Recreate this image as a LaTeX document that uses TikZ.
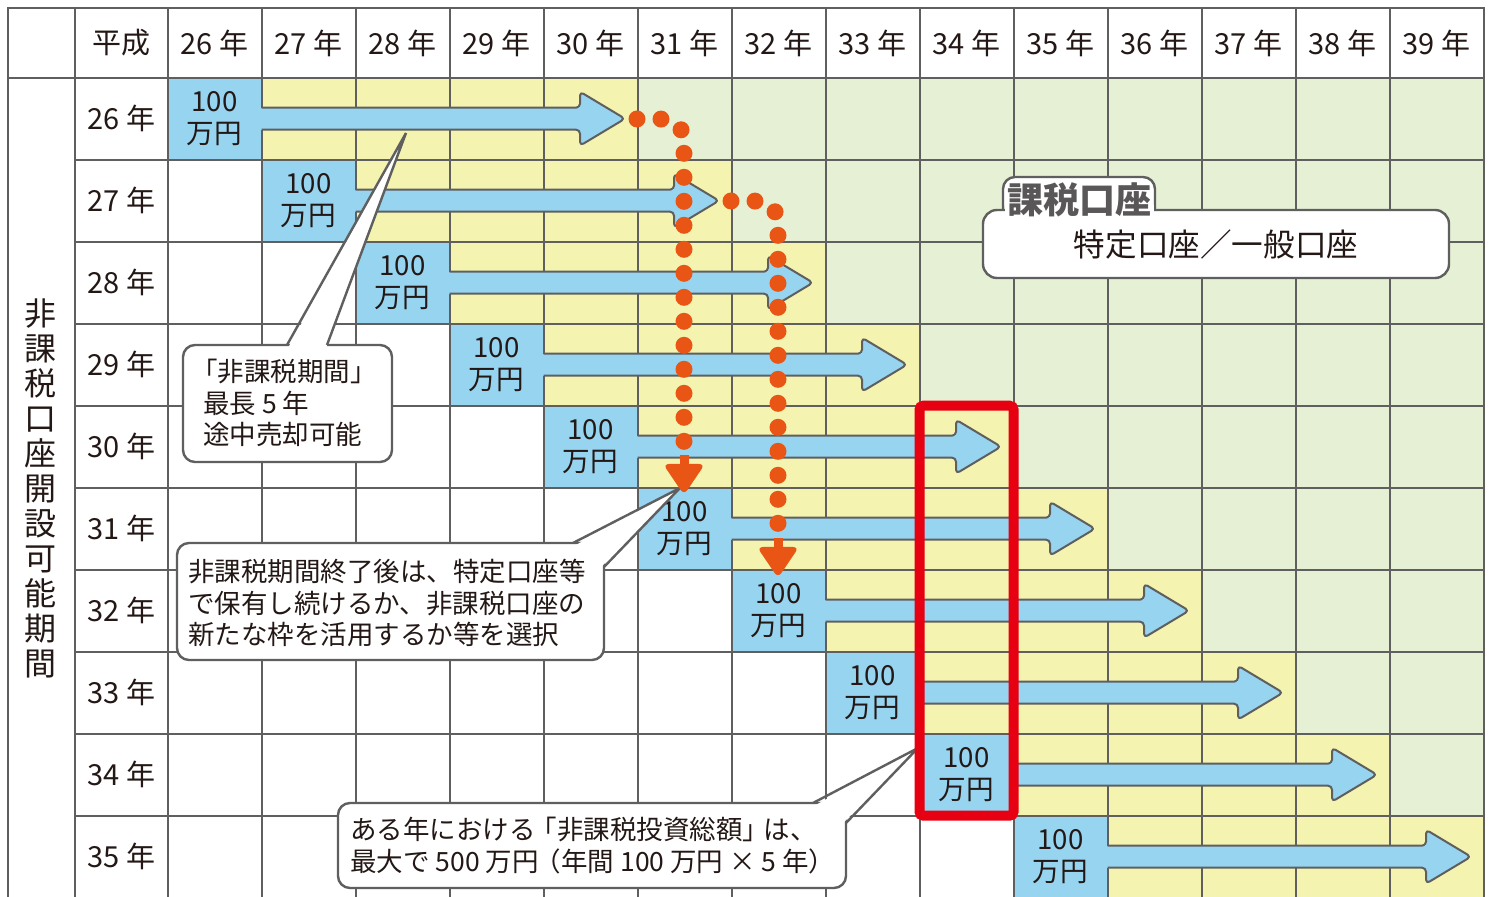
\documentclass[tikz,border=0pt]{standalone}
\usepackage{fontspec}
\setmainfont{Noto Sans CJK JP}
\definecolor{cblue}{RGB}{150,212,240}
\definecolor{cyel}{RGB}{245,243,176}
\definecolor{cgreen}{RGB}{230,240,213}
\definecolor{cgrid}{RGB}{95,95,95}
\definecolor{corange}{RGB}{233,85,21}
\definecolor{cred}{RGB}{230,0,18}
\definecolor{ctext}{RGB}{35,24,21}
\definecolor{ctab}{RGB}{89,87,87}
\begin{document}
\begin{tikzpicture}[x=0.5pt,y=-0.5pt,
  gridline/.style={cgrid,line width=1pt,line cap=rect},
  hdr/.style={font=\fontsize{14.5}{17}\selectfont,text=ctext,inner sep=0pt},
  amt/.style={font=\fontsize{13.8}{16}\selectfont,text=ctext,align=center,inner sep=0pt},
  calltext/.style={font=\fontsize{13.25}{15.8}\selectfont,text=ctext,align=left,inner sep=0pt,anchor=west},
  callbox/.style={fill=white,draw=cgrid,line width=1.2pt,rounded corners=6pt},
  callline/.style={draw=cgrid,line width=1.2pt,line join=miter},
  arrowout/.style={draw=cgrid,line width=1pt,line join=round,rounded corners=2pt},
  dots/.style={corange,line width=8.5pt,line cap=round,dash pattern=on 0pt off 12pt},
  ohead/.style={fill=corange,rounded corners=3pt},
]
\useasboundingbox (0,0) rectangle (1490,897);
\fill[white] (0,0) rectangle (1490,897);
% cells
\foreach \i in {0,...,9}{
  \foreach \j in {0,...,13}{
    \pgfmathtruncatemacro\d{\j-\i}
    \pgfmathsetmacro\xl{167.5+94*\j}
    \pgfmathsetmacro\yt{77.7+82*\i}
    \ifnum\d=0
      \fill[cblue] (\xl,\yt) rectangle ++(94,82);
    \else\ifnum\d>0
      \ifnum\d<5
        \fill[cyel] (\xl,\yt) rectangle ++(94,82);
      \else
        \fill[cgreen] (\xl,\yt) rectangle ++(94,82);
      \fi
    \fi\fi
  }
}
% grid
\draw[gridline] (8,8) -- (1483.5,8);
\draw[gridline] (8,77.7) -- (1483.5,77.7);
\draw[gridline] (8,8) -- (8,900);
\draw[gridline] (75,8) -- (75,900);
\foreach \j in {0,...,14}{
  \draw[gridline] ({167.5+94*\j},8) -- ({167.5+94*\j},900);
}
\foreach \i in {1,...,10}{
  \draw[gridline] (75,{77.7+82*\i}) -- (1483.5,{77.7+82*\i});
}
% header
\node[hdr] (h0) at (121.5,43) {平成};
\foreach \j in {0,...,13}{
  \pgfmathtruncatemacro\yr{26+\j}
  \node[hdr] (hy\j) at ({214.5+94*\j},43) {\yr\hspace{0.22em}年};
}
% row labels
\foreach \i in {0,...,9}{
  \pgfmathtruncatemacro\yr{26+\i}
  \node[hdr] (r\i) at (121.5,{118.7+82*\i}) {\yr\hspace{0.22em}年};
}
% vertical label
\node[font=\fontsize{16}{17.5}\selectfont,text=ctext,align=center,inner sep=0pt] (vl) at (41,488)
  {非\\課\\税\\口\\座\\開\\設\\可\\能\\期\\間};
% arrows
\foreach \i in {0,...,9}{
  \pgfmathsetmacro\xz{261.5+94*\i}
  \pgfmathsetmacro\cy{118.7+82*\i}
  \pgfmathsetmacro\tip{\xz+363.5}
  \pgfmathsetmacro\xh{\tip-45}
  \fill[cblue] (\xz-1,\cy-11) rectangle (\xh+4,\cy+11);
  \fill[cblue,rounded corners=2pt] (\xh,\cy-27) -- (\tip,\cy) -- (\xh,\cy+27) -- cycle;
  \draw[arrowout] (\xz,\cy-11) -- (\xh,\cy-11) -- (\xh,\cy-27) -- (\tip,\cy) -- (\xh,\cy+27) -- (\xh,\cy+11) -- (\xz,\cy+11);
  \node[amt] (b\i) at ({214.5+94*\i},{118.7+82*\i}) {100\\万円};
}
% callout 1
\draw[callbox] (183,345) rectangle (392,462);
\fill[white] (288,348) -- (406,133) -- (326,348) -- cycle;
\draw[callline] (287,345) -- (406,133) -- (327,345);
\node[calltext] (c1) at (203,403) {\kern-0.45em「非課税期間」\\最長 5 年\\途中売却可能};
% callout 2
\draw[callbox] (177,543) rectangle (604,660);
\fill[white] (574,546) -- (680,488) -- (601,567) -- cycle;
\draw[callline] (573,543) -- (680,488) -- (604,567);
\node[calltext] (c2) at (188,603) {非課税期間終了後は、特定口座等\\で保有し続けるか、非課税口座の\\新たな枠を活用するか等を選択};
% callout 3
\draw[callbox] (338,803) rectangle (846,888);
\fill[white] (814,806) -- (918,748) -- (843,823) -- cycle;
\draw[callline] (813,803) -- (918,748) -- (846,823);
\node[calltext,font=\fontsize{13.25}{16}\selectfont] (c3) at (350,846) {ある年における\kern-0.2em「非課税投資総額」\kern-0.2em は、\\最大で 500 万円\kern-0.15em（年間 100 万円 × 5 年）};
% taxable account box
\draw[callbox,rounded corners=7pt] (983,210) rectangle (1449,278);
\fill[white,rounded corners=6pt] (1003,212) -- (1003,177) -- (1155,177) -- (1155,212) -- cycle;
\draw[cgrid,line width=1.2pt,rounded corners=6pt] (1003,211) -- (1003,177) -- (1155,177) -- (1155,211);
\fill[white] (1004.5,205) rectangle (1153.5,214);
\node[font=\bfseries\fontsize{18}{20}\selectfont,text=ctab,inner sep=0pt] (tab) at (1079,200) {課税口座};
\node[font=\fontsize{15.8}{18}\selectfont,text=ctext,inner sep=0pt] (acct) at (1216,244) {特定口座／一般口座};
% dotted paths
\draw[dots] (637,119) -- (660,119) .. controls (675,119) and (684,127) .. (684,143) -- (684,458);
\fill[corange] (679.5,455) rectangle (688.5,470);
\fill[ohead] (663,464) -- (705,464) -- (684,495) -- cycle;
\draw[dots] (731,201) -- (754,201) .. controls (769,201) and (778,209) .. (778,225) -- (778,541);
\fill[corange] (773.5,538) rectangle (782.5,553);
\fill[ohead] (757,547) -- (799,547) -- (778,578) -- cycle;
% red frame
\draw[cred,line width=5pt,rounded corners=2pt] (919.5,405.7) rectangle (1013.5,815.7);
\end{tikzpicture}
\end{document}
